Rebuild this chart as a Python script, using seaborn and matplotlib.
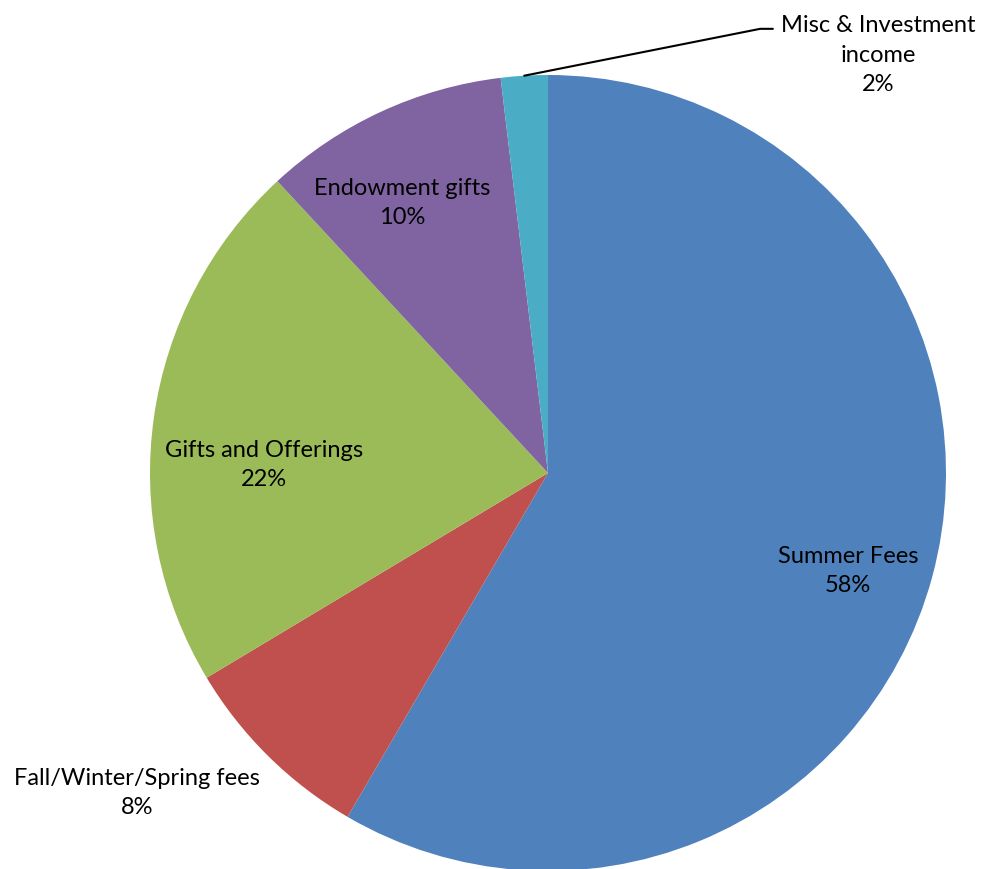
import matplotlib
matplotlib.use('Agg')
import matplotlib.pyplot as plt
import numpy as np
import seaborn as sns

sns.set_theme(style='white')
plt.rcParams['font.family'] = ['Lato', 'DejaVu Sans']

categories = ['Summer Fees', 'Fall/Winter/Spring fees', 'Gifts and Offerings',
              'Endowment gifts', 'Misc & Investment\nincome']
shares = [58.4, 8.0, 21.7, 10.0, 1.9]
colors = ['#4F81BD', '#C0504D', '#9BBB59', '#8064A2', '#4BACC6']

# label centres (axes data units, radius = 1)
label_pos = [(0.754, -0.246), (-1.033, -0.804), (-0.714, 0.02),
             (-0.367, 0.678), (0.829, 1.050)]

fig = plt.figure(figsize=(9.84, 8.69), dpi=100)
ax = fig.add_axes([150 / 984, -2 / 869, 796 / 984, 796 / 869])
wedges, _ = ax.pie(shares, colors=colors, startangle=90, counterclock=False,
                   radius=1, wedgeprops=dict(linewidth=0))
ax.set_xlim(-1, 1)
ax.set_ylim(-1, 1)
ax.set_aspect('equal')
ax.axis('off')

for w, name, val, (lx, ly) in zip(wedges, categories, shares, label_pos):
    ax.text(lx, ly, f'{name}\n{val:.0f}%', ha='center', va='center', fontsize=17,
            color='black', linespacing=1.5, clip_on=False)

# leader line for the small slice
w = wedges[-1]
mid = np.deg2rad((w.theta1 + w.theta2) / 2)
x0, y0 = np.cos(mid), np.sin(mid)
ax.plot([x0, 0.533, 0.565], [y0, 1.116, 1.116], color='black', lw=1.5,
        clip_on=False)

fig.savefig('out.png', dpi=100)
